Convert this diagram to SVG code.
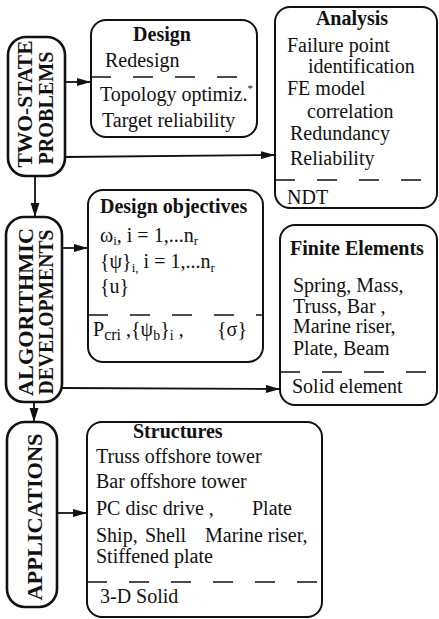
<svg xmlns="http://www.w3.org/2000/svg" width="439" height="619" viewBox="0 0 439 619">
<style>
.box{fill:#fff;stroke:#111;stroke-width:2}
.pill{fill:#fff;stroke:#111;stroke-width:2.6}
.dash{stroke:#111;stroke-width:1.6;stroke-dasharray:20 22;fill:none}
.t{font-family:"Liberation Serif","Times New Roman",serif;font-size:20px;fill:#111}
.h{font-family:"Liberation Serif","Times New Roman",serif;font-size:20px;font-weight:bold;fill:#111}
.v{font-family:"Liberation Serif","Times New Roman",serif;font-size:20px;font-weight:bold;fill:#111;text-anchor:middle}
.c{stroke:#111;stroke-width:1.8;fill:none}
</style>
<defs>
<marker id="big" markerUnits="userSpaceOnUse" markerWidth="14" markerHeight="22" refX="22" refY="7" orient="auto" viewBox="0 0 22 14">
<path d="M0,0 L22,7 L0,14 Z" fill="#111"/>
</marker>
<marker id="small" markerUnits="userSpaceOnUse" markerWidth="14" markerHeight="8" refX="14" refY="4" orient="auto" viewBox="0 0 14 8">
<path d="M0,0 L14,4 L0,8 Z" fill="#111"/>
</marker>
</defs>

<g id="connectors">
<line class="c" x1="35" y1="176" x2="35" y2="217" marker-end="url(#big)"/>
<line class="c" x1="34" y1="402" x2="34" y2="422" marker-end="url(#big)"/>
<line class="c" x1="65" y1="82" x2="91" y2="82" marker-end="url(#small)"/>
<line class="c" x1="62" y1="248" x2="88" y2="248" marker-end="url(#small)"/>
<line class="c" x1="57" y1="513" x2="87" y2="513" marker-end="url(#small)"/>
<line class="c" x1="65" y1="157" x2="275" y2="155" marker-end="url(#small)"/>
<line class="c" x1="62" y1="388" x2="280" y2="389" marker-end="url(#small)"/>
</g>

<g id="two-state">
<rect class="pill" x="8" y="37" width="57" height="139" rx="18"/>
<text class="v" transform="translate(32,104) rotate(-90)" textLength="127" lengthAdjust="spacingAndGlyphs">TWO-STATE</text>
<text class="v" transform="translate(53,108) rotate(-90)" textLength="113" lengthAdjust="spacingAndGlyphs">PROBLEMS</text>
</g>

<g id="algorithmic">
<rect class="pill" x="6" y="217" width="56" height="185" rx="18"/>
<text class="v" transform="translate(33,312) rotate(-90)" textLength="168" lengthAdjust="spacingAndGlyphs">ALGORITHMIC</text>
<text class="v" transform="translate(53,312) rotate(-90)" textLength="165" lengthAdjust="spacingAndGlyphs">DEVELOPMENTS</text>
</g>

<g id="applications">
<rect class="pill" x="7" y="422" width="50" height="185" rx="18"/>
<text class="v" transform="translate(42,517) rotate(-90)" textLength="167" lengthAdjust="spacingAndGlyphs">APPLICATIONS</text>
</g>

<g id="design">
<rect class="box" x="91" y="20" width="166" height="117" rx="15"/>
<line class="dash" x1="91" y1="77" x2="257" y2="77"/>
<text class="h" x="162" y="41" text-anchor="middle">Design</text>
<text class="t" x="105" y="67">Redesign</text>
<text class="t" x="100" y="101">Topology  optimiz.<tspan font-size="11" dy="-9">*</tspan></text>
<text class="t" x="102" y="127">Target reliability</text>
</g>

<g id="analysis">
<rect class="box" x="275" y="7" width="162" height="201" rx="15"/>
<line class="dash" x1="275" y1="180" x2="437" y2="180"/>
<text class="h" x="352" y="25" text-anchor="middle">Analysis</text>
<text class="t" x="287" y="52">Failure point</text>
<text class="t" x="308" y="73">identification</text>
<text class="t" x="287" y="95">FE model</text>
<text class="t" x="307" y="118">correlation</text>
<text class="t" x="290" y="140">Redundancy</text>
<text class="t" x="290" y="165">Reliability</text>
<text class="t" x="287" y="204">NDT</text>
</g>

<g id="design-objectives">
<rect class="box" x="88" y="190" width="175" height="172" rx="15"/>
<line class="dash" x1="88" y1="315" x2="263" y2="315"/>
<text class="h" x="100" y="213">Design objectives</text>
<text class="t" x="100" y="242">ω<tspan font-size="13" dy="3">i</tspan><tspan dy="-3">,  i = 1,...n</tspan><tspan font-size="13" dy="3">r</tspan></text>
<text class="t" x="100" y="268">{ψ}<tspan font-size="13" dy="4">i,</tspan><tspan dy="-4"> i = 1,...n</tspan><tspan font-size="13" dy="4">r</tspan></text>
<text class="t" x="100" y="293">{u}</text>
<text class="t" x="93" y="336">P<tspan font-size="16" dy="4">cri</tspan><tspan dy="-4">  ,{ψ</tspan><tspan font-size="14" dy="4">b</tspan><tspan dy="-4">}</tspan><tspan font-size="14" dy="4">i</tspan><tspan dy="-4"> ,</tspan><tspan x="217">{σ}</tspan></text>
</g>

<g id="finite-elements">
<rect class="box" x="280" y="225" width="157" height="180" rx="15"/>
<line class="dash" x1="280" y1="372" x2="437" y2="372"/>
<text class="h" x="290" y="255">Finite Elements</text>
<text class="t" x="293" y="292">Spring, Mass,</text>
<text class="t" x="293" y="313">Truss, Bar ,</text>
<text class="t" x="293" y="333">Marine riser,</text>
<text class="t" x="293" y="355">Plate, Beam</text>
<text class="t" x="292" y="393">Solid element</text>
</g>

<g id="structures">
<rect class="box" x="87" y="422" width="235" height="195" rx="15"/>
<line class="dash" x1="87" y1="582" x2="322" y2="582"/>
<text class="h" x="133" y="438">Structures</text>
<text class="t" x="96" y="463">Truss offshore tower</text>
<text class="t" x="96" y="488">Bar offshore tower</text>
<text class="t" x="96" y="515">PC disc drive ,</text>
<text class="t" x="252" y="515">Plate</text>
<text class="t" x="96" y="542">Ship,</text>
<text class="t" x="145" y="542">Shell</text>
<text class="t" x="205" y="542">Marine riser,</text>
<text class="t" x="96" y="563">Stiffened plate</text>
<text class="t" x="100" y="603">3-D Solid</text>
</g>
</svg>
